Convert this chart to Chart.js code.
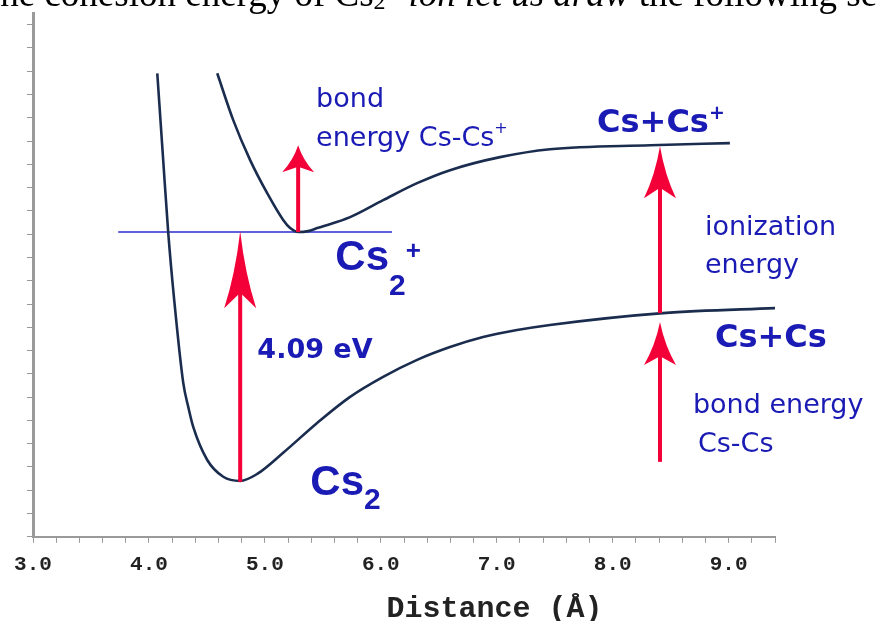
<!DOCTYPE html>
<html>
<head>
<meta charset="utf-8">
<script src="https://cdn.jsdelivr.net/npm/chart.js@4.4.0/dist/chart.umd.min.js"></script>
<style>
  html, body { margin: 0; padding: 0; background: #fff; }
</style>
</head>
<body>
<canvas id="potentialChart" width="876" height="621"></canvas>
<script>
// Distance (Å) and energy (arbitrary units, no labels on the axis)
const cs2Distance = [4.072, 4.123, 4.166, 4.218, 4.296, 4.339, 4.382, 4.503, 4.641, 4.787, 4.934, 5.158,
                     5.451, 5.735, 6.020, 6.313, 6.597, 6.882, 7.175, 7.459, 8.434, 9.442];
const cs2Energy   = [19.91, 16.18, 13.09, 10.17, 6.61, 5.58, 4.72, 3.30, 2.58, 2.40, 2.70, 3.61,
                     4.89, 6.01, 6.87, 7.60, 8.15, 8.58, 8.88, 9.10, 9.61, 9.83];

const cs2IonDistance = [4.589, 4.727, 4.873, 5.020, 5.158, 5.218, 5.287, 5.373, 5.451, 5.735, 6.020, 6.313,
                        6.597, 7.028, 7.459, 8.322, 9.011];
const cs2IonEnergy   = [19.91, 17.90, 16.18, 14.76, 13.61, 13.26, 13.09, 13.13, 13.26, 13.73, 14.46, 15.19,
                        15.75, 16.31, 16.65, 16.82, 16.91];

// thin level line through the Cs2+ minimum
const levelDistance = [3.735, 6.097];
const levelEnergy = [13.09, 13.09];

// red arrows: position, start and end energy
const arrowDistance = [5.287, 4.787, 8.408, 8.408];
const arrowFrom = [13.09, 2.36, 9.61, 3.22];
const arrowTo = [16.82, 13.13, 16.78, 9.23];

const xTickLabels = ['3.0', '4.0', '5.0', '6.0', '7.0', '8.0', '9.0'];

const blue = '#1a1ab4';
const navy = '#1b2d4f';
const arrowRed = '#f40038';
const arrowHeadLength = [27, 77, 52, 43];

// text labels: [text, size, weight, family, baseline shift]
const labelSpecs = [
  { x: 5.442, y: 18.46, parts: [['bond', 27, 400, 'DejaVu Sans', 0]] },
  { x: 5.442, y: 16.78, parts: [['energy Cs-Cs', 27, 400, 'DejaVu Sans', 0], ['+', 16, 400, 'DejaVu Sans', -13]] },
  { x: 7.865, y: 17.38, parts: [['Cs+Cs', 32, 700, 'DejaVu Sans', 0], ['+', 19, 700, 'DejaVu Sans', -13]] },
  { x: 8.796, y: 12.96, parts: [['ionization', 27, 400, 'DejaVu Sans', 0]] },
  { x: 8.796, y: 11.33, parts: [['energy', 27, 400, 'DejaVu Sans', 0]] },
  { x: 8.882, y: 8.15, parts: [['Cs+Cs', 32, 700, 'DejaVu Sans', 0]] },
  { x: 8.692, y: 5.32, parts: [['bond energy', 27, 400, 'DejaVu Sans', 0]] },
  { x: 8.735, y: 3.65, parts: [['Cs-Cs', 27, 400, 'DejaVu Sans', 0]] },
  { x: 4.935, y: 7.68, parts: [['4.09 eV', 27, 700, 'DejaVu Sans', 0]] },
  { x: 5.608, y: 11.46, parts: [['Cs', 42, 700, 'Liberation Sans', 0], ['2', 30, 700, 'Liberation Sans', 25], ['+', 26, 700, 'Liberation Sans', -11]] },
  { x: 5.392, y: 1.80, parts: [['Cs', 42, 700, 'Liberation Sans', 0], ['2', 30, 700, 'Liberation Sans', 14]] }
];

// the cropped line of body text above the figure
const captionParts = [
  { text: 'the cohesion energy of Cs', italic: false, size: 37, dy: 0 },
  { text: '2', italic: false, size: 24, dy: 3 },
  { text: '+', italic: false, size: 24, dy: -14 },
  { text: ' ion let us draw', italic: true, size: 37, dy: 0 },
  { text: ' the following section', italic: false, size: 37, dy: 0 }
];

const overlay = {
  id: 'overlay',
  beforeDraw(chart) {
    const ctx = chart.ctx;
    ctx.save();
    ctx.fillStyle = '#fff';
    ctx.fillRect(0, 0, chart.width, chart.height);
    ctx.fillStyle = '#000';
    ctx.textBaseline = 'alphabetic';
    let x = -10;
    captionParts.forEach(p => {
      ctx.font = `${p.italic ? 'italic ' : ''}${p.size}px "Liberation Serif"`;
      ctx.fillText(p.text, x, 6 + p.dy);
      x += ctx.measureText(p.text).width;
    });
    ctx.restore();
  },
  afterDatasetsDraw(chart) {
    const { ctx, scales: { x: xs, y: ys } } = chart;
    ctx.save();
    // arrows
    ctx.fillStyle = arrowRed;
    arrowDistance.forEach((d, i) => {
      const px = xs.getPixelForValue(d);
      const tail = ys.getPixelForValue(arrowFrom[i]);
      const tip = ys.getPixelForValue(arrowTo[i]);
      const len = arrowHeadLength[i];
      const hw = 16;
      ctx.fillRect(px - 2, tip + len * 0.6, 4, tail - tip - len * 0.6);
      ctx.beginPath();
      ctx.moveTo(px, tip);
      ctx.quadraticCurveTo(px + hw * 0.3, tip + len * 0.55, px + hw, tip + len);
      ctx.lineTo(px, tip + len * 0.8);
      ctx.lineTo(px - hw, tip + len);
      ctx.quadraticCurveTo(px - hw * 0.3, tip + len * 0.55, px, tip);
      ctx.closePath();
      ctx.fill();
    });
    // labels
    ctx.fillStyle = blue;
    ctx.textAlign = 'left';
    ctx.textBaseline = 'alphabetic';
    labelSpecs.forEach(spec => {
      let x = xs.getPixelForValue(spec.x);
      const y = ys.getPixelForValue(spec.y);
      spec.parts.forEach(([text, size, weight, family, dy]) => {
        ctx.font = `${weight} ${size}px "${family}"`;
        ctx.fillText(text, x, y + dy);
        x += ctx.measureText(text).width;
      });
    });
    ctx.restore();
  },
  afterDraw(chart) {
    const { ctx, scales: { x: xs } } = chart;
    ctx.save();
    ctx.fillStyle = '#222';
    ctx.font = 'bold 30px "Liberation Mono"';
    ctx.textAlign = 'center';
    ctx.textBaseline = 'alphabetic';
    ctx.fillText('Distance (Å)', xs.getPixelForValue(6.98), 617);
    ctx.restore();
  }
};

const toPoints = (xs, ys) => xs.map((x, i) => ({ x, y: ys[i] }));

new Chart(document.getElementById('potentialChart'), {
  type: 'scatter',
  data: {
    datasets: [
      {
        label: 'Cs2',
        data: toPoints(cs2Distance, cs2Energy),
        showLine: true,
        borderColor: navy,
        borderWidth: 2.6,
        pointRadius: 0,
        cubicInterpolationMode: 'monotone'
      },
      {
        label: 'Cs2+',
        data: toPoints(cs2IonDistance, cs2IonEnergy),
        showLine: true,
        borderColor: navy,
        borderWidth: 2.6,
        pointRadius: 0,
        cubicInterpolationMode: 'monotone'
      },
      {
        label: 'level',
        data: toPoints(levelDistance, levelEnergy),
        showLine: true,
        borderColor: '#2b2bd0',
        borderWidth: 1.5,
        pointRadius: 0
      }
    ]
  },
  options: {
    responsive: false,
    animation: false,
    devicePixelRatio: 1,
    layout: { padding: { left: 27, right: 101, top: 13, bottom: 35 } },
    plugins: { legend: { display: false }, tooltip: { enabled: false } },
    scales: {
      x: {
        type: 'linear',
        min: 3.0,
        max: 9.4,
        border: { color: '#9a9a9a', width: 2 },
        grid: { drawOnChartArea: false, drawTicks: true, tickLength: 6, color: '#999', tickWidth: 1 },
        ticks: {
          stepSize: 0.2,
          autoSkip: false,
          maxRotation: 0,
          padding: 9,
          color: '#222',
          font: { family: 'Liberation Mono', size: 21, weight: 'bold' },
          callback: (value) => {
            const v = Math.round(value * 10) / 10;
            const idx = xTickLabels.indexOf(v.toFixed(1));
            return Math.abs(v - Math.round(v)) < 1e-9 && idx >= 0 ? xTickLabels[idx] : '';
          }
        }
      },
      y: {
        type: 'linear',
        min: 0,
        max: 22.5,
        border: { color: '#9a9a9a', width: 3 },
        grid: { drawOnChartArea: false, drawTicks: true, tickLength: 6, color: '#999', tickWidth: 1 },
        ticks: { stepSize: 1, display: false, includeBounds: false }
      }
    }
  },
  plugins: [overlay]
});
</script>
</body>
</html>
